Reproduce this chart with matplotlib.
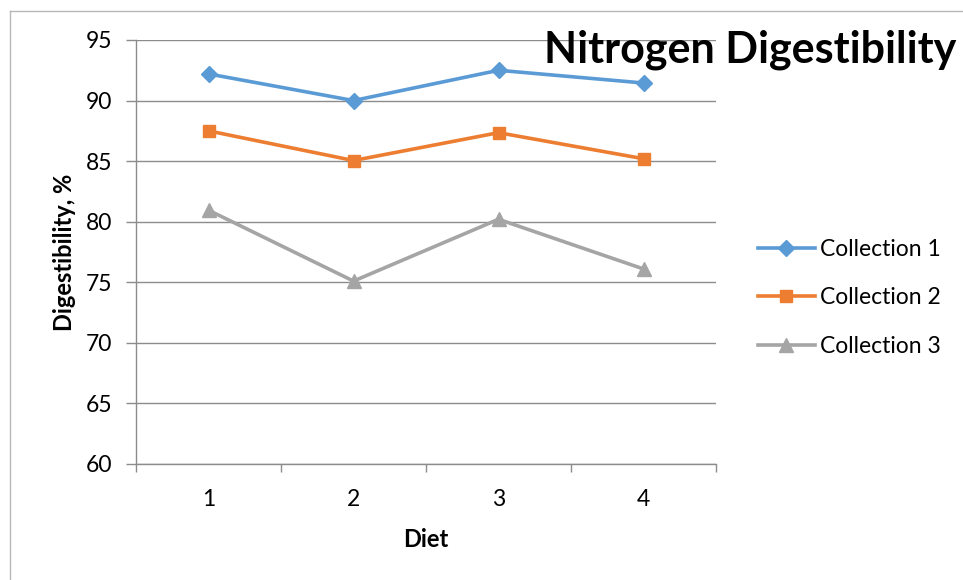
import matplotlib
matplotlib.use("Agg")
import matplotlib.pyplot as plt
from matplotlib.lines import Line2D

plt.rcParams['font.family'] = ['Lato', 'DejaVu Sans']

diets = ["1", "2", "3", "4"]
series_names = ["Collection 1", "Collection 2", "Collection 3"]
collection1 = [92.2, 90.0, 92.5, 91.45]
collection2 = [87.5, 85.05, 87.35, 85.2]
collection3 = [80.95, 75.1, 80.2, 76.1]
yticks = [60, 65, 70, 75, 80, 85, 90, 95]

colors = ["#5B9BD5", "#ED7D31", "#A5A5A5"]
markers = ["D", "s", "^"]
msizes = [8, 9, 10]
grid_c = "#8c8c8c"

fig = plt.figure(figsize=(9.63, 5.8), dpi=100)
ax = fig.add_axes([136/963, 1-464/580, (716-136)/963, (464-40)/580])

x = list(range(1, len(diets)+1))
for vals, name, c, m, ms in zip([collection1, collection2, collection3], series_names, colors, markers, msizes):
    ax.plot(x, vals, color=c, lw=2.6, marker=m, ms=ms, label=name, zorder=3)

ax.set_xlim(0.5, len(diets)+0.5)
ax.set_ylim(60, 95)
ax.set_yticks(yticks)
ax.set_yticklabels([str(v) for v in yticks], fontsize=16.5)
ax.set_xticks(x)
ax.set_xticklabels(diets, fontsize=16.5)
ax.set_xticks([i+0.5 for i in range(0, len(diets)+1)], minor=True)
ax.tick_params(axis='x', which='major', length=0, pad=18)
ax.tick_params(axis='x', which='minor', length=6, color=grid_c, width=1, direction='out')
ax.tick_params(axis='y', length=7, color=grid_c, width=1, pad=10)
ax.grid(axis='y', color=grid_c, lw=1)
for s in ['top', 'right']:
    ax.spines[s].set_visible(False)
for s in ['left', 'bottom']:
    ax.spines[s].set_color(grid_c)
    ax.spines[s].set_linewidth(1)
ax.set_axisbelow(True)

ax.set_xlabel("Diet", fontsize=17, fontweight='bold', labelpad=13)
ax.set_ylabel("Digestibility, %", fontsize=17, fontweight='bold', labelpad=7)

fig.text(750/963, 1-50/580, "Nitrogen Digestibility", fontsize=31, fontweight='bold',
         ha='center', va='center')

leg = fig.legend(loc='center left', bbox_to_anchor=(737/963, 1-298/580), frameon=False,
                 fontsize=16.5, handlelength=2.5, labelspacing=1.2, handletextpad=0.2)

# chart border
fig.add_artist(Line2D([10/963, 10/963], [0, 1-11/580], transform=fig.transFigure, color="#b8b8b8", lw=1))
fig.add_artist(Line2D([10/963, 1], [1-11/580, 1-11/580], transform=fig.transFigure, color="#b8b8b8", lw=1))

fig.savefig("out.png", dpi=100)
